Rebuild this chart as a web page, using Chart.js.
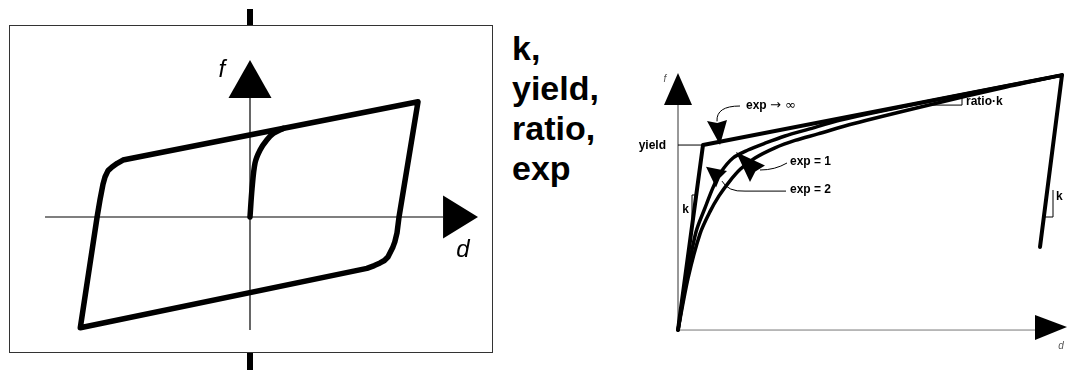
<!DOCTYPE html>
<html>
<head>
<meta charset="utf-8">
<script src="https://cdn.jsdelivr.net/npm/chart.js@4.4.0/dist/chart.umd.min.js"></script>
<style>
  body { margin:0; background:#fff; width:1067px; height:370px; overflow:hidden; position:relative; font-family:"Liberation Sans", Arial, sans-serif; }
  #frame { position:absolute; left:9px; top:25px; width:482px; height:326px; border:1.5px solid #333; }
  .bar { position:absolute; left:247px; width:6px; background:#000; }
  #params { position:absolute; left:512px; top:28px; font-weight:bold; font-size:34px; line-height:40px; color:#000; }
  canvas { position:absolute; top:0; }
</style>
</head>
<body>
<div id="frame"></div>
<div class="bar" style="top:9px;height:16px"></div>
<div class="bar" style="top:353px;height:17px"></div>
<div id="params">k,<br>yield,<br>ratio,<br>exp</div>
<canvas id="left" width="500" height="370" style="left:0"></canvas>
<canvas id="right" width="467" height="370" style="left:600px"></canvas>
<script>
// left: hysteresis loop (d, f)
var loopD = [-1.01, -0.91, -0.893, -0.875, -0.863, -0.845, -0.821, -0.79, -0.756, -0.696, 1.0,
             0.887, 0.875, 0.862, 0.851, 0.821, 0.80, 0.774, 0.74, 0.696, -1.01];
var loopF = [-0.98, 0, 0.15, 0.29, 0.354, 0.41, 0.442, 0.475, 0.504, 0.522, 1.02,
             0, -0.14, -0.22, -0.265, -0.354, -0.385, -0.407, -0.43, -0.455, -0.98];
// left: initial loading branch
var initD = [0, 0.012, 0.03, 0.06, 0.1, 0.14, 0.2];
var initF = [0, 0.25, 0.478, 0.593, 0.681, 0.74, 0.785];

// right: backbone curves (d / yield disp, f / yield)
var bilinD = [0, 1, 15.36, 14.48];
var bilinF = [0, 1, 1.378, 0.449];
var exp2D = [0, 0.36, 0.72, 1.08, 1.4, 1.72, 2.2, 2.8, 3.48, 4.28, 5.2, 6.5, 8, 11, 15.36];
var exp2F = [0, 0.29, 0.53, 0.66, 0.77, 0.854, 0.93, 0.973, 1.01, 1.049, 1.085, 1.135, 1.18, 1.262, 1.378];
var exp1D = [0, 0.4, 0.88, 1.28, 1.64, 2.04, 2.5, 3.08, 3.88, 4.68, 5.6, 7, 10, 13, 15.36];
var exp1F = [0, 0.28, 0.52, 0.64, 0.725, 0.8, 0.87, 0.93, 0.985, 1.025, 1.06, 1.115, 1.215, 1.31, 1.378];

function pts(xs, ys) {
  return xs.map(function (x, i) { return {x: x, y: ys[i]}; });
}

function line(ds, width, tension) {
  return {
    data: ds, showLine: true, borderColor: '#000', borderWidth: width,
    pointRadius: 0, tension: tension, borderJoinStyle: 'round', borderCapStyle: 'round', clip: false
  };
}

function P(chart, d, f) {
  return [chart.scales.x.getPixelForValue(d), chart.scales.y.getPixelForValue(f)];
}

function seg(ctx, a, b) {
  ctx.beginPath(); ctx.moveTo(a[0], a[1]); ctx.lineTo(b[0], b[1]); ctx.stroke();
}

function fillPoly(ctx, list) {
  ctx.beginPath();
  ctx.moveTo(list[0][0], list[0][1]);
  for (var i = 1; i < list.length; i++) ctx.lineTo(list[i][0], list[i][1]);
  ctx.closePath(); ctx.fill();
}

// arrowhead with a small notch, tip and two base corners
function kite(ctx, tip, b1, b2) {
  var mx = (b1[0] + b2[0]) / 2, my = (b1[1] + b2[1]) / 2;
  var n = [mx + (tip[0] - mx) * 0.1, my + (tip[1] - my) * 0.1];
  fillPoly(ctx, [tip, b1, n, b2]);
}

function baseOpts(xmin, xmax, ymin, ymax) {
  return {
    responsive: false, animation: false, devicePixelRatio: 1,
    layout: {padding: 0},
    plugins: {legend: {display: false}, tooltip: {enabled: false}},
    scales: {
      x: {type: 'linear', display: false, min: xmin, max: xmax},
      y: {type: 'linear', display: false, min: ymin, max: ymax}
    }
  };
}

var leftDecor = {
  id: 'leftDecor',
  beforeDatasetsDraw: function (chart) {
    var ctx = chart.ctx;
    ctx.save();
    ctx.strokeStyle = '#000'; ctx.fillStyle = '#000'; ctx.lineWidth = 1.2;
    seg(ctx, P(chart, -1.22, 0), P(chart, 1.15, 0));
    seg(ctx, P(chart, 0, -1.0), P(chart, 0, 1.06));
    // arrowheads
    var xb = P(chart, 1.149, 0), xt = P(chart, 1.357, 0);
    fillPoly(ctx, [xt, [xb[0], xb[1] - 21.5], [xb[0], xb[1] + 21.5]]);
    var yb = P(chart, 0, 1.053), yt = P(chart, 0, 1.389);
    fillPoly(ctx, [yt, [yb[0] - 21.5, yb[1]], [yb[0] + 21.5, yb[1]]]);
    ctx.font = 'italic 24px "Liberation Sans", Arial, sans-serif';
    ctx.textAlign = 'center'; ctx.textBaseline = 'middle';
    var fl = P(chart, -0.167, 1.30); ctx.fillText('f', fl[0], fl[1]);
    var dl = P(chart, 1.268, -0.292); ctx.fillText('d', dl[0], dl[1]);
    ctx.restore();
  }
};

var rightDecor = {
  id: 'rightDecor',
  beforeDatasetsDraw: function (chart) {
    var ctx = chart.ctx;
    ctx.save();
    ctx.fillStyle = '#000';
    ctx.lineWidth = 1;
    ctx.strokeStyle = '#333';
    seg(ctx, P(chart, 0, 0), P(chart, 0, 1.22));
    ctx.strokeStyle = '#777';
    seg(ctx, P(chart, 0, 0), P(chart, 14.3, 0));
    var yb = P(chart, 0, 1.216), yt = P(chart, 0, 1.389);
    fillPoly(ctx, [yt, [yb[0] - 14, yb[1]], [yb[0] + 14, yb[1]]]);
    var xb = P(chart, 14.28, 0), xt = P(chart, 15.56, 0);
    fillPoly(ctx, [[xt[0], xt[1] - 3], [xb[0], xb[1] - 15], [xb[0], xb[1] + 10]]);
    // small axis names
    ctx.fillStyle = '#555';
    ctx.font = 'italic 10px "Liberation Sans", Arial, sans-serif';
    ctx.textAlign = 'center'; ctx.textBaseline = 'middle';
    var fl = P(chart, -0.52, 1.357); ctx.fillText('f', fl[0], fl[1]);
    var dl = P(chart, 15.32, -0.086); ctx.fillText('d', dl[0], dl[1]);
    // thin guide lines: yield, slope triangles
    ctx.strokeStyle = '#000'; ctx.lineWidth = 1;
    seg(ctx, P(chart, 0, 1), P(chart, 1, 1));
    seg(ctx, P(chart, 9.96, 1.216), P(chart, 11.36, 1.216));
    seg(ctx, P(chart, 11.36, 1.216), P(chart, 11.36, 1.27));
    seg(ctx, P(chart, 0.56, 0.73), P(chart, 0.74, 0.73));
    seg(ctx, P(chart, 0.56, 0.73), P(chart, 0.56, 0.58));
    seg(ctx, P(chart, 15.0, 0.757), P(chart, 15.0, 0.611));
    seg(ctx, P(chart, 15.0, 0.611), P(chart, 14.66, 0.611));
    ctx.restore();
  },
  afterDatasetsDraw: function (chart) {
    var ctx = chart.ctx;
    ctx.save();
    ctx.fillStyle = '#000'; ctx.strokeStyle = '#000'; ctx.lineWidth = 1;
    // exp -> inf
    kite(ctx, P(chart, 1.68, 1.0), P(chart, 1.16, 1.13), P(chart, 1.96, 1.135));
    var a = P(chart, 1.56, 1.128), c = P(chart, 1.52, 1.211), e = P(chart, 2.48, 1.211);
    ctx.beginPath(); ctx.moveTo(a[0], a[1]); ctx.quadraticCurveTo(c[0], c[1], e[0], e[1]); ctx.stroke();
    // exp = 1
    kite(ctx, P(chart, 2.32, 0.962), P(chart, 3.48, 0.89), P(chart, 2.88, 0.8));
    a = P(chart, 3.28, 0.865); c = P(chart, 3.88, 0.865); e = P(chart, 4.36, 0.903);
    ctx.beginPath(); ctx.moveTo(a[0], a[1]); ctx.quadraticCurveTo(c[0], c[1], e[0], e[1]); ctx.stroke();
    // exp = 2
    kite(ctx, P(chart, 1.12, 0.882), P(chart, 1.96, 0.86), P(chart, 1.52, 0.77));
    a = P(chart, 1.76, 0.805); c = P(chart, 2.0, 0.746); e = P(chart, 2.68, 0.751);
    ctx.beginPath(); ctx.moveTo(a[0], a[1]); ctx.quadraticCurveTo(c[0], c[1], e[0], e[1]);
    var e2 = P(chart, 4.32, 0.751); ctx.lineTo(e2[0], e2[1]); ctx.stroke();

    ctx.textBaseline = 'middle';
    var bold = 'bold 12px "Liberation Sans", Arial, sans-serif';
    var thin = '13px "DejaVu Sans", sans-serif';
    ctx.font = bold; ctx.textAlign = 'left';
    var t = P(chart, 2.72, 1.211);
    ctx.fillText('exp', t[0], t[1]);
    var w = ctx.measureText('exp ').width;
    ctx.font = thin; ctx.fillText('\u2192 \u221E', t[0] + w, t[1]);
    ctx.font = bold;
    t = P(chart, 4.48, 0.908); ctx.fillText('exp = 1', t[0], t[1]);
    t = P(chart, 4.48, 0.757); ctx.fillText('exp = 2', t[0], t[1]);
    t = P(chart, 11.52, 1.232); ctx.fillText('ratio\u00B7k', t[0], t[1]);
    t = P(chart, 15.12, 0.719); ctx.fillText('k', t[0], t[1]);
    ctx.textAlign = 'right';
    t = P(chart, -0.48, 0.995); ctx.fillText('yield', t[0], t[1]);
    t = P(chart, 0.44, 0.649); ctx.fillText('k', t[0], t[1]);
    ctx.restore();
  }
};

new Chart(document.getElementById('left'), {
  type: 'scatter',
  data: {datasets: [line(pts(loopD, loopF), 5.5, 0), line(pts(initD, initF), 5.5, 0.3)]},
  options: baseOpts(-1.488, 1.488, -1.354, 1.920),
  plugins: [leftDecor]
});

new Chart(document.getElementById('right'), {
  type: 'scatter',
  data: {datasets: [
    line(pts(bilinD, bilinF), 4, 0),
    line(pts(exp2D, exp2F), 3.5, 0.3),
    line(pts(exp1D, exp1F), 3.5, 0.3)
  ]},
  options: baseOpts(-3.12, 15.56, -0.216, 1.784),
  plugins: [rightDecor]
});
</script>
</body>
</html>
